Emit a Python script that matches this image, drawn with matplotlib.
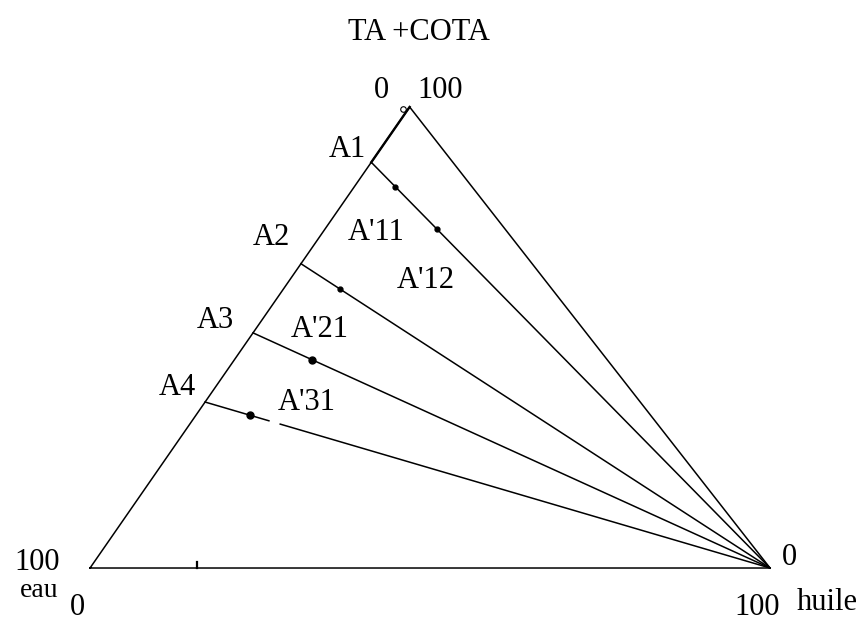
import numpy as np
import matplotlib.pyplot as plt

# Ternary diagram: eau / TA+COTA / huile (percentages)
# points on the eau - TA+COTA side, as % TA+COTA
side_names = ['A1', 'A2', 'A3', 'A4']
side_ta = [88, 66, 51, 36]

# points measured along each tie line, as % huile
tie_names = ["A'11", "A'12", "", "A'21", "A'31"]
tie_line = [0, 0, 1, 2, 3]
tie_huile = [6.0, 16.5, 8.3, 11.5, 7.9]

# break in the A4 tie line (% huile)
gap_huile = [11.3, 13.3]

# apex offset of the drawn triangle (fraction of the base)
APEX_X = 0.47


def to_xy(ta, huile):
    ta = np.asarray(ta, dtype=float)
    huile = np.asarray(huile, dtype=float)
    return huile + APEX_X * ta, ta


def tie_ta(ta0, huile):
    # straight line from (ta0, 0 huile) to the pure huile corner
    return ta0 * (1 - np.asarray(huile, dtype=float) / 100.0)


plt.rcParams['font.family'] = ['Liberation Serif', 'DejaVu Serif']

fig = plt.figure(figsize=(8.61, 6.25), dpi=100)
ax = fig.add_axes([0, 0, 1, 1])
ax.set_xlim(-13.24, 113.38)
ax.set_ylim(-12.36, 123.2)
ax.axis('off')

lw = 1.1
# triangle
corners_ta = [0, 0, 100, 0]
corners_h = [0, 100, 0, 0]
cx, cy = to_xy(corners_ta, corners_h)
ax.plot(cx, cy, color='black', lw=lw)
# heavier stroke on the upper part of the left side
ux, uy = to_xy([side_ta[0], 100], [0, 0])
ax.plot(ux, uy, color='black', lw=1.7)

# tie lines towards the huile corner
for i, ta0 in enumerate(side_ta):
    if i == 3:
        h = np.array([0, gap_huile[0]])
        x, y = to_xy(tie_ta(ta0, h), h)
        ax.plot(x, y, color='black', lw=lw)
        h = np.array([gap_huile[1], 100])
        x, y = to_xy(tie_ta(ta0, h), h)
        ax.plot(x, y, color='black', lw=lw)
    else:
        h = np.array([0, 100])
        x, y = to_xy(tie_ta(ta0, h), h)
        ax.plot(x, y, color='black', lw=lw)

# measured points on the tie lines
for k, h in enumerate(tie_huile):
    ta = tie_ta(side_ta[tie_line[k]], h)
    x, y = to_xy(ta, h)
    size = 5 if tie_line[k] >= 2 and tie_names[k] else 3.5
    ax.plot(x, y, marker='o', ms=size, color='black', mec='black')

# small mark at the apex and tick on the base
ax_x, ax_y = to_xy(99.5, 0)
ax.plot(ax_x - 0.7, ax_y, marker='o', ms=4, mfc='none', mec='black', mew=0.8)
ax.plot([15.7, 15.7], [0, 1.4], color='black', lw=1.6)

fs = 22
labels = [
    ('TA +COTA', 48.4, 114.5),
    ('0', 42.8, 102.0),
    ('100', 51.5, 102.0),
    ('A1', 37.9, 89.2),
    ('A2', 26.6, 70.1),
    ('A3', 18.5, 52.1),
    ('A4', 12.9, 37.5),
    ("A'11", 42.1, 71.1),
    ("A'12", 49.3, 60.7),
    ("A'21", 33.8, 50.1),
    ("A'31", 31.8, 34.3),
    ('100', -7.8, -0.4),
    ('0', -1.8, -10.2),
    ('0', 102.8, 0.65),
    ('100', 98.1, -10.2),
    ('huile', 108.4, -9.1),
]
for txt, x, y in labels:
    ax.text(x, y, txt, fontsize=fs, ha='center', va='baseline', color='black')
ax.text(-7.5, -6.3, 'eau', fontsize=20, ha='center', va='baseline', color='black')

fig.savefig('out.png', dpi=100)
